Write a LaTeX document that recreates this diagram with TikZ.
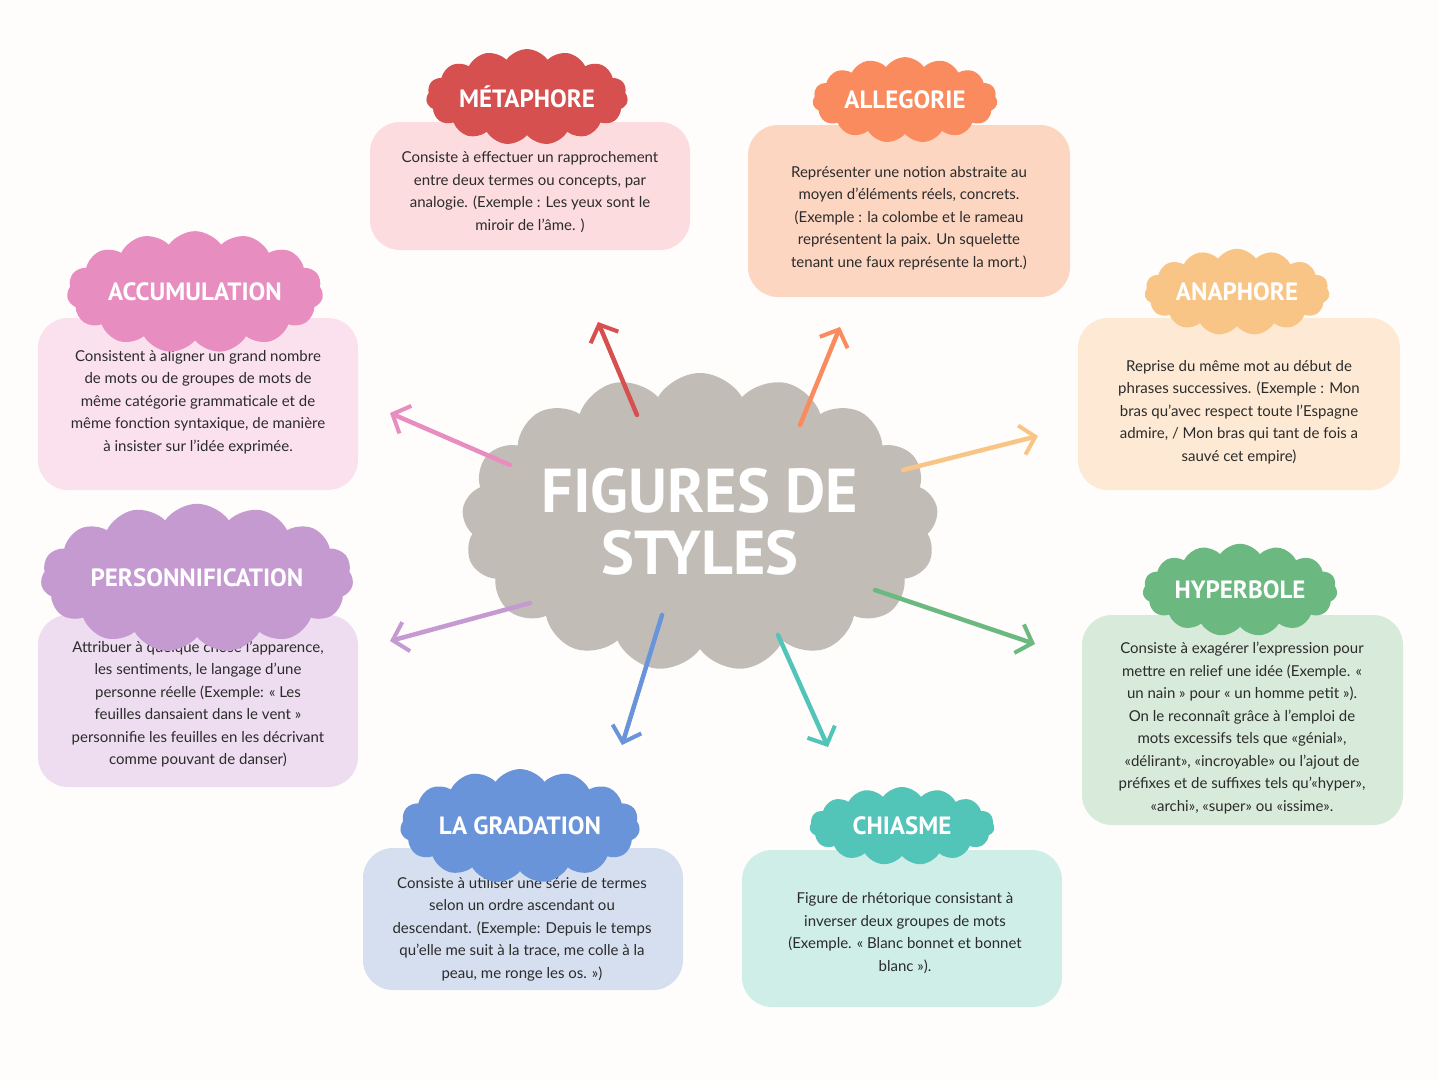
\documentclass[tikz,border=0pt]{standalone}
\usepackage{fontspec}
\setmainfont{Lato}
\newfontfamily\headfont{PT Sans}
\usetikzlibrary{shapes.symbols,arrows.meta}
\definecolor{bgc}{HTML}{FEFDFB}
\definecolor{txt}{HTML}{2B2B2B}
\definecolor{redc}{HTML}{D65050}\definecolor{redl}{HTML}{FCDCDE}
\definecolor{orac}{HTML}{F98B5E}\definecolor{oral}{HTML}{FDD6C2}
\definecolor{pinc}{HTML}{E88DBF}\definecolor{pinl}{HTML}{FBE1EE}
\definecolor{yelc}{HTML}{F9C586}\definecolor{yell}{HTML}{FEEAD4}
\definecolor{purc}{HTML}{C49AD0}\definecolor{purl}{HTML}{EEDDF0}
\definecolor{grec}{HTML}{6BB881}\definecolor{grel}{HTML}{D8EBDA}
\definecolor{bluc}{HTML}{6A94DA}\definecolor{blul}{HTML}{D5DFF0}
\definecolor{teac}{HTML}{52C4B8}\definecolor{teal}{HTML}{CFEEE8}
\definecolor{grayc}{HTML}{C2BCB6}
\tikzset{
  infobox/.style={rounded corners=30pt, draw=none, align=center, text=txt,
    font=\fontsize{15}{22.5}\selectfont, inner sep=0pt},
  headcloud/.style={cloud, cloud puffs=15, cloud puff arc=110, aspect=2.6,
    fill=#1, draw=none, text=white, inner sep=2pt,
    minimum width=185pt, minimum height=78pt,
    font=\headfont\bfseries\fontsize{25}{28}\selectfont},
  figarrow/.style={draw=#1, line width=4.5pt, line cap=round,
    -{Straight Barb[length=14pt,width=30pt,line width=4pt]}}
}
\begin{document}
\begin{tikzpicture}[x=1pt,y=-1pt]
\fill[bgc] (0,0) rectangle (1439,1080);
\useasboundingbox (0,0) rectangle (1439,1080);
% boxes
\fill[redl,rounded corners=30pt] (370,122) rectangle (690,250);
\fill[oral,rounded corners=30pt] (748,125) rectangle (1070,297);
\fill[pinl,rounded corners=30pt] (38,318) rectangle (358,490);
\fill[yell,rounded corners=30pt] (1078,318) rectangle (1400,490);
\fill[purl,rounded corners=30pt] (38,615) rectangle (358,787);
\fill[grel,rounded corners=30pt] (1082,615) rectangle (1403,825);
\fill[blul,rounded corners=30pt] (363,848) rectangle (683,990);
\fill[teal,rounded corners=30pt] (742,850) rectangle (1062,1007);
% texts
\node[infobox] (tmeta) at (530,192) {Consiste à effectuer un rapprochement\\entre deux termes ou concepts, par\\analogie. (Exemple : Les yeux sont le\\miroir de l'âme. )};
\node[infobox] (talle) at (909,218) {Représenter une notion abstraite au\\moyen d'éléments réels, concrets.\\(Exemple : la colombe et le rameau\\représentent la paix. Un squelette\\tenant une faux représente la mort.)};
\node[infobox] (taccu) at (198,402) {Consistent à aligner un grand nombre\\de mots ou de groupes de mots de\\même catégorie grammaticale et de\\même fonction syntaxique, de manière\\à insister sur l'idée exprimée.};
\node[infobox] (tanap) at (1239,412) {Reprise du même mot au début de\\phrases successives. (Exemple : Mon\\bras qu'avec respect toute l'Espagne\\admire, / Mon bras qui tant de fois a\\sauvé cet empire)};
\node[infobox] (tpers) at (198,704) {Attribuer à quelque chose l'apparence,\\les sentiments, le langage d'une\\personne réelle (Exemple: « Les\\feuilles dansaient dans le vent »\\personnifie les feuilles en les décrivant\\comme pouvant de danser)};
\node[infobox] (thype) at (1242,728) {Consiste à exagérer l'expression pour\\mettre en relief une idée (Exemple. «\\un nain » pour « un homme petit »).\\On le reconnaît grâce à l'emploi de\\mots excessifs tels que «génial»,\\«délirant», «incroyable» ou l'ajout de\\préfixes et de suffixes tels qu'«hyper»,\\«archi», «super» ou «issime».};
\node[infobox] (tgrad) at (522,929) {Consiste à utiliser une série de termes\\selon un ordre ascendant ou\\descendant. (Exemple: Depuis le temps\\qu'elle me suit à la trace, me colle à la\\peau, me ronge les os. »)};
\node[infobox] (tchia) at (905,933) {Figure de rhétorique consistant à\\inverser deux groupes de mots\\(Exemple. « Blanc bonnet et bonnet\\blanc »).};
% header clouds
\node[headcloud=redc] (meta) at (527,97) {MÉTAPHORE};
\node[headcloud=orac] (alle) at (905,100) {ALLEGORIE};
\node[headcloud=pinc] (accu) at (195,292) {ACCUMULATION};
\node[headcloud=yelc] (anap) at (1237,292) {ANAPHORE};
\node[headcloud=purc,minimum width=200pt] (pers) at (197,578) {PERSONNIFICATION};
\node[headcloud=grec] (hype) at (1240,590) {HYPERBOLE};
\node[headcloud=bluc] (grad) at (520,826) {LA GRADATION};
\node[headcloud=teac] (chia) at (902,826) {CHIASME};
% centre
\node[cloud, cloud puffs=17, cloud puff arc=120, aspect=1.8, fill=grayc, draw=none,
  minimum width=400pt, minimum height=215pt, text=white, align=center,
  font=\headfont\bfseries\fontsize{62}{62}\selectfont] (fig) at (700,522) {FIGURES DE\\STYLES};
% arrows
\coordinate (s1) at (637,415); \coordinate (e1) at (598,322);
\coordinate (s2) at (800,425); \coordinate (e2) at (840,327);
\coordinate (s3) at (510,465); \coordinate (e3) at (390,413);
\coordinate (s4) at (903,470); \coordinate (e4) at (1038,436);
\coordinate (s5) at (530,603); \coordinate (e5) at (390,641);
\coordinate (s6) at (875,590); \coordinate (e6) at (1035,644);
\coordinate (s7) at (662,615); \coordinate (e7) at (622,745);
\coordinate (s8) at (778,635); \coordinate (e8) at (828,747);
\draw[figarrow=redc] (s1) -- (e1);
\draw[figarrow=orac] (s2) -- (e2);
\draw[figarrow=pinc] (s3) -- (e3);
\draw[figarrow=yelc] (s4) -- (e4);
\draw[figarrow=purc] (s5) -- (e5);
\draw[figarrow=grec] (s6) -- (e6);
\draw[figarrow=bluc] (s7) -- (e7);
\draw[figarrow=teac] (s8) -- (e8);
\end{tikzpicture}
\end{document}
